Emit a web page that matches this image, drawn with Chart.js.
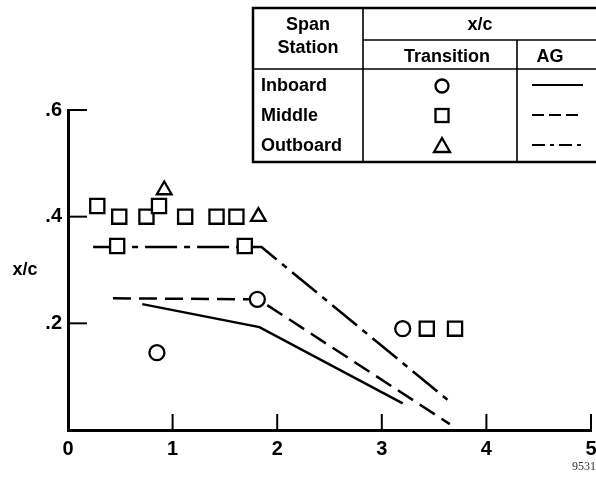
<!DOCTYPE html>
<html>
<head>
<meta charset="utf-8">
<script src="https://cdn.jsdelivr.net/npm/chart.js@4.4.1/dist/chart.umd.min.js"></script>
<style>
  html, body { margin: 0; padding: 0; background: #fff; }
  canvas { display: block; }
</style>
</head>
<body>
<canvas id="c" width="596" height="491"></canvas>
<script>
// Axis ticks
const xTickValues = [0, 1, 2, 3, 4, 5];
const xTickLabels = ['0', '1', '2', '3', '4', '5'];
const yTickValues = [0.2, 0.4, 0.6];
const yTickLabels = ['.2', '.4', '.6'];

// AG lines (x/c against distance), one per span station
const inboardAgX = [0.71, 1.83, 3.20];
const inboardAgY = [0.236, 0.193, 0.050];
const middleAgX = [0.43, 1.82, 3.65];
const middleAgY = [0.247, 0.245, 0.011];
const outboardAgX = [0.24, 1.85, 3.67];
const outboardAgY = [0.343, 0.343, 0.050];

// Measured transition points
const inboardTransX = [0.85, 1.81, 3.20];
const inboardTransY = [0.145, 0.245, 0.190];
const middleTransX = [0.28, 0.49, 0.75, 0.87, 1.12, 1.42, 1.61, 0.47, 1.69, 3.43, 3.70];
const middleTransY = [0.42, 0.40, 0.40, 0.42, 0.40, 0.40, 0.40, 0.345, 0.345, 0.19, 0.19];
const outboardTransX = [0.92, 1.82];
const outboardTransY = [0.45, 0.40];

// Legend table text
const stationNames = ['Inboard', 'Middle', 'Outboard'];
const tableHeaders = ['Span', 'Station', 'x/c', 'Transition', 'AG'];
const yAxisTitle = 'x/c';
const figureNumber = '9531';

const pts = (xs, ys) => xs.map((x, i) => ({ x, y: ys[i] }));

const FONT = "'Liberation Sans', Arial, sans-serif";
const SOLID = [];
const DASHED = [18, 8];
const DASHDOT = [32, 7, 6, 7];

function agLine(xs, ys, dash) {
  return {
    type: 'line', data: pts(xs, ys), borderColor: '#000', borderWidth: 2.5,
    borderDash: dash, pointRadius: 0, fill: false, tension: 0, order: 2
  };
}
function transPoints(xs, ys, style, r) {
  return {
    type: 'scatter', data: pts(xs, ys), pointStyle: style, pointRadius: r,
    pointBorderWidth: 2.3, pointBorderColor: '#000', pointBackgroundColor: '#fff',
    showLine: false, order: 1
  };
}

// Inside tick marks, axis title, figure number and the legend table
const decorPlugin = {
  id: 'decor',
  afterDraw(chart) {
    const ctx = chart.ctx;
    const xs = chart.scales.x, ys = chart.scales.y;
    const area = chart.chartArea;
    ctx.save();
    ctx.strokeStyle = '#000';
    ctx.lineWidth = 2;
    ctx.setLineDash([]);
    yTickValues.forEach(v => {
      const py = ys.getPixelForValue(v);
      ctx.beginPath(); ctx.moveTo(area.left, py); ctx.lineTo(area.left + 19, py); ctx.stroke();
    });
    xTickValues.filter(v => v > 0).forEach(v => {
      const px = xs.getPixelForValue(v);
      ctx.beginPath(); ctx.moveTo(px, area.bottom); ctx.lineTo(px, area.bottom - 16); ctx.stroke();
    });

    ctx.fillStyle = '#000';
    ctx.font = 'bold 18px ' + FONT;
    ctx.textAlign = 'center'; ctx.textBaseline = 'middle';
    ctx.fillText(yAxisTitle, 25, 270);

    ctx.font = "12px 'Liberation Serif', serif";
    ctx.fillStyle = '#333';
    ctx.textAlign = 'left';
    ctx.fillText(figureNumber, 572, 467);

    // table
    const L = 253, T = 8, R = 602, B = 162, C1 = 363, C2 = 517, H1 = 40, H2 = 69;
    ctx.fillStyle = '#fff';
    ctx.fillRect(L, T, R - L, B - T);
    ctx.lineWidth = 2.5;
    ctx.strokeRect(L, T, R - L, B - T);
    ctx.lineWidth = 1.6;
    const seg = (a, b, c, d) => { ctx.beginPath(); ctx.moveTo(a, b); ctx.lineTo(c, d); ctx.stroke(); };
    seg(C1, T, C1, B);
    seg(C2, H1, C2, B);
    seg(C1, H1, R, H1);
    seg(L, H2, R, H2);

    ctx.fillStyle = '#000';
    ctx.font = 'bold 18px ' + FONT;
    ctx.textAlign = 'center'; ctx.textBaseline = 'middle';
    ctx.fillText(tableHeaders[0], 308, 25);
    ctx.fillText(tableHeaders[1], 308, 48);
    ctx.fillText(tableHeaders[2], 480, 25);
    ctx.fillText(tableHeaders[3], 447, 57);
    ctx.fillText(tableHeaders[4], 550, 57);
    ctx.textAlign = 'left';
    const rowY = [86, 116, 146];
    stationNames.forEach((n, i) => ctx.fillText(n, 261, rowY[i]));

    // symbols
    ctx.lineWidth = 2.3;
    const sx = 442;
    ctx.beginPath(); ctx.arc(sx, rowY[0], 6.5, 0, Math.PI * 2); ctx.stroke();
    ctx.strokeRect(sx - 6.5, rowY[1] - 7, 13, 13);
    ctx.beginPath();
    ctx.moveTo(sx, rowY[2] - 8); ctx.lineTo(sx + 8, rowY[2] + 6); ctx.lineTo(sx - 8, rowY[2] + 6); ctx.closePath(); ctx.stroke();

    // line samples
    ctx.lineWidth = 2;
    const dashes = [[], [12, 5], [13, 5, 4, 5]];
    dashes.forEach((d, i) => {
      ctx.setLineDash(d);
      seg(532, rowY[i] - 1, 583, rowY[i] - 1);
    });
    ctx.restore();
  }
};

new Chart(document.getElementById('c'), {
  data: {
    datasets: [
      transPoints(inboardTransX, inboardTransY, 'circle', 7.5),
      transPoints(middleTransX, middleTransY, 'rect', 10),
      transPoints(outboardTransX, outboardTransY, 'triangle', 8.5),
      agLine(inboardAgX, inboardAgY, SOLID),
      agLine(middleAgX, middleAgY, DASHED),
      agLine(outboardAgX, outboardAgY, DASHDOT)
    ]
  },
  options: {
    responsive: false,
    animation: false,
    devicePixelRatio: 1,
    layout: { autoPadding: false, padding: { top: 110, right: 5, left: 0, bottom: 0 } },
    plugins: { legend: { display: false }, tooltip: { enabled: false } },
    scales: {
      x: {
        type: 'linear', min: 0, max: 5,
        afterBuildTicks: s => { s.ticks = xTickValues.map(v => ({ value: v })); },
        afterFit: s => { s.height = 61; s.paddingLeft = 0; s.paddingRight = 0; },
        ticks: {
          callback: (v) => xTickLabels[xTickValues.indexOf(v)],
          color: '#000', font: { family: FONT, size: 20, weight: 'bold' }, padding: 7, maxRotation: 0
        },
        grid: { display: true, drawOnChartArea: false, drawTicks: false },
        border: { display: true, color: '#000', width: 3 }
      },
      y: {
        type: 'linear', min: 0, max: 0.6,
        afterBuildTicks: s => { s.ticks = yTickValues.map(v => ({ value: v })); },
        afterFit: s => { s.width = 68; s.paddingTop = 0; s.paddingBottom = 0; },
        ticks: {
          callback: (v) => yTickLabels[yTickValues.indexOf(v)],
          color: '#000', font: { family: FONT, size: 20, weight: 'bold' }, padding: 6
        },
        grid: { display: true, drawOnChartArea: false, drawTicks: false },
        border: { display: true, color: '#000', width: 3 }
      }
    }
  },
  plugins: [decorPlugin]
});
</script>
</body>
</html>
